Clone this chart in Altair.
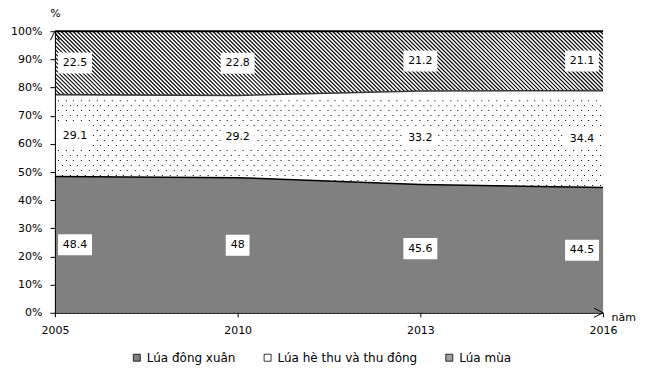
import json
import altair as alt
import pandas as pd

# ---------------- data ----------------
years = ["2005", "2010", "2013", "2016"]
dong_xuan = [48.4, 48.0, 45.6, 44.5]
he_thu = [29.1, 29.2, 33.2, 34.4]
mua = [22.5, 22.8, 21.2, 21.1]
series_names = ["Lúa đông xuân", "Lúa hè thu và thu đông", "Lúa mùa"]
y_ticks = list(range(0, 101, 10))

# ---------------- style ----------------
W, H = 549, 282
FONT = "DejaVu Sans"
C_BOTTOM = "#808080"
C_TOP_LEGEND = "#a0a0a0"
HATCH_STEP = 4      # px between diagonal hatch lines
DOT_DX, DOT_DY = 7.7, 5  # px spacing of the dot texture

df = pd.DataFrame({
    "idx": list(range(len(years))),
    "year": years,
    "dx": dong_xuan,
    "ht": he_thu,
    "mua": mua,
})
df["b1"] = df["dx"]
df["b2"] = df["dx"] + df["ht"]
df["b3"] = df["b2"] + df["mua"]

rows = []
for i in range(len(years)):
    lo = 0.0
    for s, vals in zip(series_names, [dong_xuan, he_thu, mua]):
        v = vals[i]
        rows.append({"idx": i, "series": s, "value": v, "lo": lo, "hi": lo + v,
                     "label": f"{v:g}"})
        lo += v
lab = pd.DataFrame(rows)

# ---------------- axes / scales ----------------
x_scale = alt.Scale(domain=[0, len(years) - 1], nice=False, zero=False)
y_scale = alt.Scale(domain=[0, 100], nice=False)

x_axis = alt.Axis(values=list(range(len(years))),
                  labelExpr=json.dumps(years) + "[datum.value]",
                  labelFlush=False, labelOverlap=False,
                  title="năm", titleAngle=0, titleX=557, titleY=5,
                  titleAlign="left", titleBaseline="middle", titleFontWeight="normal",
                  tickSize=4, labelPadding=8, grid=False, zindex=1)
y_axis = alt.Axis(values=y_ticks, labelExpr="datum.value + '%'",
                  title="%", titleAngle=0, titleX=0, titleY=-18,
                  titleAlign="center", titleBaseline="middle", titleFontWeight="normal",
                  tickSize=5, labelPadding=8, grid=False, zindex=1)

X = alt.X("idx:Q", scale=x_scale, axis=x_axis)


def Y(field):
    return alt.Y(field, scale=y_scale, axis=y_axis)


base = alt.Chart(df)
u = (len(years) - 1) / W  # x data units per pixel

# diagonal hatch texture for the top band ("Lúa mùa"); lower bands are drawn over it
n_lines = int((W + H) / HATCH_STEP) + 2
hatch = alt.Chart(alt.sequence(0, n_lines, as_="i")).transform_calculate(
    xs=f"(datum.i * {HATCH_STEP} - {H}) * {u}",
    xe=f"(datum.i * {HATCH_STEP}) * {u}",
).mark_rule(clip=True, color="black", strokeWidth=1.15).encode(
    x=alt.X("xs:Q", scale=x_scale, axis=x_axis),
    x2="xe:Q",
    y=alt.value(0),
    y2=alt.value(H),
)

area_middle = base.mark_area(fill="white", opacity=1).encode(
    x=X, y=Y("b2:Q"), y2="b1:Q")

# dotted texture for the middle band ("Lúa hè thu và thu đông")
dot_top = float(df["b2"].min()) - 0.6
ncols = int(W / DOT_DX) + 1
nrows = int(dot_top / 100 * H / DOT_DY) + 1
dots = alt.Chart(alt.sequence(0, ncols * nrows, as_="i")).transform_calculate(
    col=f"datum.i % {ncols}",
    row=f"floor(datum.i / {ncols})",
).transform_calculate(
    px=f"round(datum.col * {DOT_DX} + (datum.row % 2) * {DOT_DX / 2} + 3) + 0.5",
    py=f"round(datum.row * {DOT_DY} + 2) + 0.5",
).transform_calculate(
    dxv=f"datum.px * {u}",
    dyv=f"datum.py * 100 / {H}",
).transform_filter(
    f"datum.px < {W} && datum.dyv < {dot_top}"
).mark_square(size=1, color="black", opacity=1, clip=True).encode(
    x=alt.X("dxv:Q", scale=x_scale, axis=x_axis),
    y=Y("dyv:Q"),
)

area_bottom = base.mark_area(fill=C_BOTTOM, opacity=1).encode(
    x=X, y=Y("b1:Q"), y2=alt.datum(0))

line1 = base.mark_line(color="black", strokeWidth=1.5).encode(x=X, y=Y("b1:Q"))
line2 = base.mark_line(color="#3a3a3a", strokeWidth=1.6).encode(x=X, y=Y("b2:Q"))
line3 = base.mark_line(color="black", strokeWidth=1.8).encode(x=X, y=Y("b3:Q"))

# axis arrow heads
arrow_y = base.transform_filter("datum.idx == 0").mark_point(
    shape="M-0.9,1.8L0,0L0.9,1.8", size=100, filled=False, color="black",
    strokeWidth=1, opacity=1).encode(x=X, y=Y("b3:Q"))
arrow_x = base.transform_filter("datum.idx == 3").mark_point(
    shape="M-1.8,-0.9L0,0L-1.8,0.9", size=100, filled=False, color="black",
    strokeWidth=1, opacity=1).encode(x=X, y=alt.datum(0, scale=y_scale, axis=y_axis))

labels = alt.Chart(lab).transform_calculate(
    ymid="(datum.lo + datum.hi) / 2",
    lx="datum.idx + (datum.idx == 0 ? 0.11 : (datum.idx == 3 ? -0.115 : 0))",
)
boxes = labels.mark_point(filled=True, color="white", opacity=1, strokeWidth=0,
                          size=1156).encode(
    x=alt.X("lx:Q", scale=x_scale, axis=x_axis),
    y=Y("ymid:Q"),
    shape=alt.condition("length(datum.label) < 3",
                        alt.value("M-0.7,-0.62H0.7V0.62H-0.7Z"),
                        alt.value("M-1,-0.62H1V0.62H-1Z")),
)
texts = labels.mark_text(font=FONT, fontSize=11, color="black",
                         baseline="middle", align="center").encode(
    x=alt.X("lx:Q", scale=x_scale, axis=x_axis),
    y=Y("ymid:Q"),
    text="label:N",
)

legend_layer = alt.Chart(lab).transform_filter("false").mark_square(
    opacity=1, filled=True, stroke="black", strokeWidth=0.8).encode(
    x=alt.X("idx:Q", scale=x_scale, axis=x_axis),
    y=Y("value:Q"),
    color=alt.Color("series:N",
                    scale=alt.Scale(domain=series_names,
                                    range=[C_BOTTOM, "#ffffff", C_TOP_LEGEND]),
                    legend=alt.Legend(title=None, orient="none", legendX=76, legendY=321,
                                      direction="horizontal", symbolType="square",
                                      symbolSize=49, symbolStrokeColor="black",
                                      symbolStrokeWidth=0.8, symbolOpacity=1,
                                      labelFont=FONT, labelFontSize=12, labelColor="black",
                                      labelOffset=4, columnPadding=26, padding=0)),
)

chart = alt.layer(
    hatch, area_middle, dots, area_bottom, line1, line2, line3,
    boxes, texts, arrow_y, arrow_x, legend_layer,
).properties(
    width=W, height=H,
    autosize=alt.AutoSizeParams(type="none"),
    padding={"left": 47, "top": 23, "right": 40, "bottom": 55},
).configure_view(stroke=None).configure_axis(
    labelFont=FONT, labelFontSize=11, labelColor="black",
    titleFont=FONT, titleFontSize=11, titleColor="black",
    domainColor="black", tickColor="black", domainWidth=1, tickWidth=1,
)

chart.save("out.html", embed_options={"renderer": "svg", "actions": False})
